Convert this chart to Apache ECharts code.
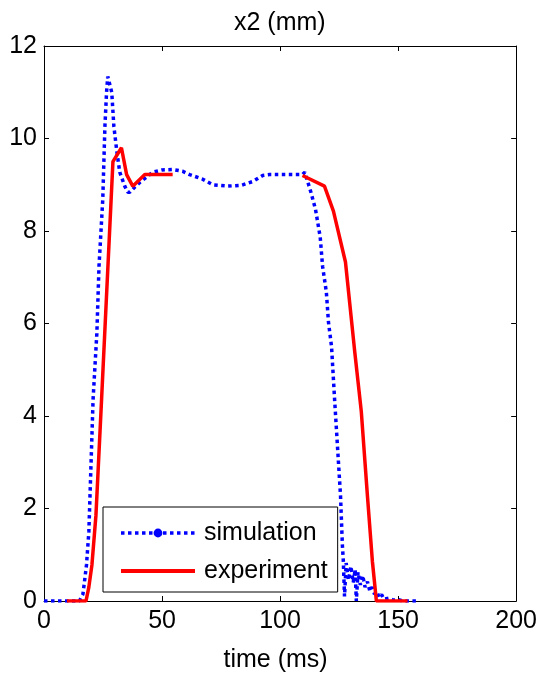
<!DOCTYPE html>
<html>
<head>
<meta charset="utf-8">
<script src="https://cdn.jsdelivr.net/npm/echarts@6/dist/echarts.min.js"></script>
<style>
  html, body { margin: 0; padding: 0; background: #fff; }
  #chart { width: 540px; height: 678px; }
</style>
</head>
<body>
<div id="chart"></div>
<script>
// simulation (blue dotted)
const simTime = [0, 15, 16.5, 18, 19, 19.9, 20.8, 22.4, 23.3, 24.9, 25.8, 26.5, 27, 27.7, 28.7,
  29.6, 30.9, 32.1, 34.2, 35.5, 36.4, 38.5, 40.6, 43, 46, 50, 54.5, 58.8, 61.7, 67.2, 71.5,
  77.8, 83.7, 88.4, 92.6, 95.6, 100, 105, 109.5, 110.5, 111.5, 113, 115, 117, 118, 119.6,
  120.5, 121.8, 123, 124.3, 125.6, 126.4, 126.8, 127.3, 128, 129, 130, 131, 131.8, 132.3,
  133, 134, 135, 136, 137, 138, 139, 140, 141, 142, 143, 144, 146, 148, 150, 152, 159];
const simX2 = [0, 0, 0.15, 0.78, 1.5, 2.93, 4.37, 5.8, 7.24, 8.69, 10.26, 11.0, 11.34, 11.2, 11.0,
  10.26, 9.7, 9.27, 8.97, 8.84, 8.84, 8.95, 9.05, 9.15, 9.27, 9.32, 9.33, 9.29, 9.22, 9.12, 9.0,
  8.97, 8.99, 9.07, 9.2, 9.22, 9.22, 9.22, 9.22, 9.27, 9.1, 8.85, 8.47, 7.87, 7.24, 6.68,
  6.03, 5.5, 4.44, 3.36, 2.28, 1.2, 0.86, 0.1, 0.82, 0.45, 0.75, 0.4, 0.68, 0.0,
  0.62, 0.35, 0.55, 0.3, 0.42, 0.22, 0.3, 0.15, 0.2, 0.08, 0.14, 0.04, 0.06, 0.02, 0.03, 0, 0];

// experiment (red solid), null = gap in the record
const expTime = [9.7, 17.8, 19, 20.3, 22, 24.4, 29.2, 32.8, 35, 37.6, 42.7, 54.5, 82,
  109.5, 118.8, 122.6, 127.7, 131.5, 134.4, 137, 139.1, 140.8, 154];
const expX2 = [0, 0, 0.3, 0.78, 1.85, 4.37, 9.5, 9.8, 9.22, 8.97, 9.22, 9.22, null,
  9.2, 8.97, 8.43, 7.33, 5.45, 4.1, 2.28, 0.86, 0, 0];

const xTicks = {min: 0, max: 200, interval: 50};
const yTicks = {min: 0, max: 12, interval: 2};

const font = "'Liberation Sans', Arial, sans-serif";

const zip = (xs, ys) => xs.map((x, i) => [x, ys[i]]);

const myChart = echarts.init(document.getElementById('chart'));

const axisCommon = {
  type: 'value',
  axisLine: {show: true, onZero: false, lineStyle: {color: '#000', width: 1}},
  axisTick: {show: true, inside: true, length: 5, lineStyle: {color: '#000', width: 1}},
  splitLine: {show: false}
};

myChart.setOption({
  animation: false,
  backgroundColor: '#fff',
  title: {
    text: 'x2 (mm)',
    left: 229,
    top: 6,
    textStyle: {fontFamily: font, fontSize: 25, fontWeight: 'normal', color: '#000'}
  },
  grid: {left: 44, right: 23, top: 46, bottom: 75, containLabel: false},
  legend: {
    orient: 'vertical',
    left: 103,
    top: 507,
    padding: [12, 10, 7, 16],
    itemGap: 10,
    itemWidth: 74,
    itemHeight: 11,
    borderColor: '#000',
    borderWidth: 1,
    backgroundColor: '#fff',
    textStyle: {fontFamily: font, fontSize: 25, color: '#000', lineHeight: 28, padding: [0, 0, 0, 4]},
    data: [
      {name: 'simulation', lineStyle: {width: 3.5, type: [3.5, 3.5]}},
      // solid red line only, no marker in its legend sample
      {name: 'experiment', itemStyle: {opacity: 0}, lineStyle: {width: 4}}
    ]
  },
  xAxis: [
    Object.assign({}, axisCommon, xTicks, {
      position: 'bottom',
      name: 'time (ms)',
      nameLocation: 'middle',
      nameGap: 47,
      nameTextStyle: {fontFamily: font, fontSize: 25, color: '#000', padding: [0, 9, 0, 0]},
      axisLabel: {fontFamily: font, fontSize: 25, color: '#000', margin: 8}
    }),
    Object.assign({}, axisCommon, xTicks, {position: 'top', axisLabel: {show: false}})
  ],
  yAxis: [
    Object.assign({}, axisCommon, yTicks, {
      position: 'left',
      axisLabel: {fontFamily: font, fontSize: 25, color: '#000', margin: 7}
    }),
    Object.assign({}, axisCommon, yTicks, {position: 'right', axisLabel: {show: false}})
  ],
  series: [
    {
      name: 'simulation',
      type: 'line',
      data: zip(simTime, simX2),
      symbol: 'circle',
      showSymbol: false,
      itemStyle: {color: '#0000ff'},
      lineStyle: {color: '#0000ff', width: 3.5, type: [3.5, 3.5], cap: 'butt'},
      z: 3
    },
    {
      name: 'experiment',
      type: 'line',
      data: zip(expTime, expX2),
      symbol: 'none',
      connectNulls: false,
      itemStyle: {color: '#ff0000'},
      lineStyle: {color: '#ff0000', width: 3.5},
      z: 4
    }
  ]
});
</script>
</body>
</html>
